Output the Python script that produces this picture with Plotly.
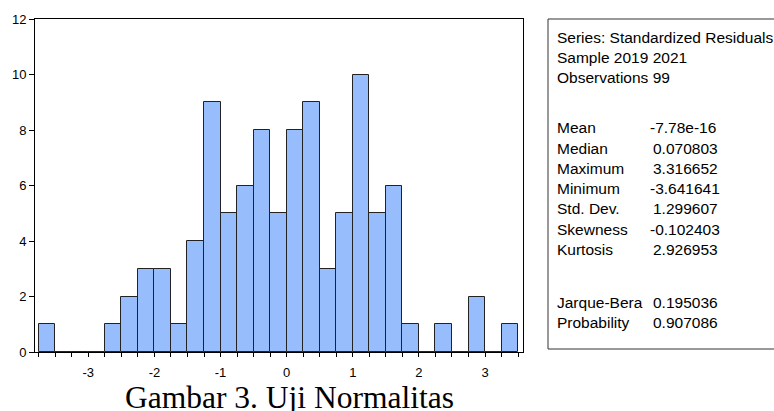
import plotly.graph_objects as go

bin_width = 0.25
bin_start = -3.75
counts = [1, 0, 0, 0, 1, 2, 3, 3, 1, 4, 9, 5, 6, 8, 5, 8, 9, 3, 5, 10, 5, 6, 1, 0, 1, 0, 2, 0, 1]
x_major = [-3, -2, -1, 0, 1, 2, 3]
y_ticks = [0, 2, 4, 6, 8, 10, 12]

header_lines = ["Series: Standardized Residuals", "Sample 2019 2021", "Observations 99"]
stat_names = ["Mean", "Median", "Maximum", "Minimum", "Std. Dev.", "Skewness", "Kurtosis"]
stat_values = ["-7.78e-16", "0.070803", "3.316652", "-3.641641", "1.299607", "-0.102403", "2.926953"]
test_names = ["Jarque-Bera", "Probability"]
test_values = ["0.195036", "0.907086"]
caption = "Gambar 3. Uji Normalitas"

W, H = 774, 411
edges = [bin_start + i * bin_width for i in range(len(counts) + 1)]
centers = [bin_start + (i + 0.5) * bin_width for i in range(len(counts))]

fig = go.Figure()
fig.add_trace(go.Bar(
    x=centers, y=counts, width=bin_width,
    marker=dict(color="#97BDFD", line=dict(color="#222222", width=1)),
    hoverinfo="x+y",
))

tick_text = [("%d" % round(e)) if abs(e - round(e)) < 1e-9 else "" for e in edges]

fig.update_layout(
    width=W, height=H, autosize=False,
    margin=dict(l=0, r=0, t=0, b=0, pad=0, autoexpand=False),
    paper_bgcolor="white", plot_bgcolor="white",
    showlegend=False,
    bargap=0,
    font=dict(family="Liberation Sans, Arial, sans-serif", color="black", size=13),
    xaxis=dict(
        domain=[35 / W, 523 / W],
        range=[-3.806, 3.574],
        tickvals=edges, ticktext=tick_text,
        ticks="outside", ticklen=4, tickcolor="black", tickwidth=1,
        showline=True, linecolor="black", linewidth=1, mirror=True,
        showgrid=False, zeroline=False, automargin=False,
        ticklabelstandoff=4,
        tickfont=dict(size=13),
    ),
    yaxis=dict(
        domain=[(H - 352) / H, (H - 19) / H],
        range=[0, 12],
        tickvals=y_ticks,
        ticks="outside", ticklen=5, tickcolor="black", tickwidth=1,
        showline=True, linecolor="black", linewidth=1, mirror=True,
        showgrid=False, zeroline=False, automargin=False,
        tickfont=dict(size=13),
    ),
)

# stats box
fig.add_shape(type="rect", xref="paper", yref="paper",
              x0=548 / W, x1=790 / W, y0=(H - 349) / H, y1=(H - 19) / H,
              line=dict(color="#333333", width=1), fillcolor="rgba(0,0,0,0)")

FS = 15.5

def add_text(txt, px, py, size=FS):
    fig.add_annotation(text=txt, xref="paper", yref="paper",
                       x=px / W, y=(H - py) / H, xanchor="left", yanchor="middle",
                       showarrow=False, font=dict(size=size, color="black",
                       family="Liberation Sans, Arial, sans-serif"))

for i, t in enumerate(header_lines):
    add_text(t, 555, 37 + 20 * i)
for i, (n, v) in enumerate(zip(stat_names, stat_values)):
    py = 128 + 20.2 * i
    add_text(n, 555, py)
    add_text(v, 648 if v.startswith("-") else 651, py)
for i, (n, v) in enumerate(zip(test_names, test_values)):
    py = 302 + 20 * i
    add_text(n, 555, py)
    add_text(v, 648 if v.startswith("-") else 651, py)

fig.add_annotation(text=caption, xref="paper", yref="paper",
                   x=289 / W, y=(H - 397) / H, xanchor="center", yanchor="middle",
                   showarrow=False,
                   font=dict(size=31.5, color="black", family="Liberation Serif, Times New Roman, serif"))

fig.write_html("out.html",
               config={"responsive": False, "displayModeBar": False},
               post_script="document.body.style.margin='0';document.body.style.overflow='hidden';document.documentElement.style.overflow='hidden';")
